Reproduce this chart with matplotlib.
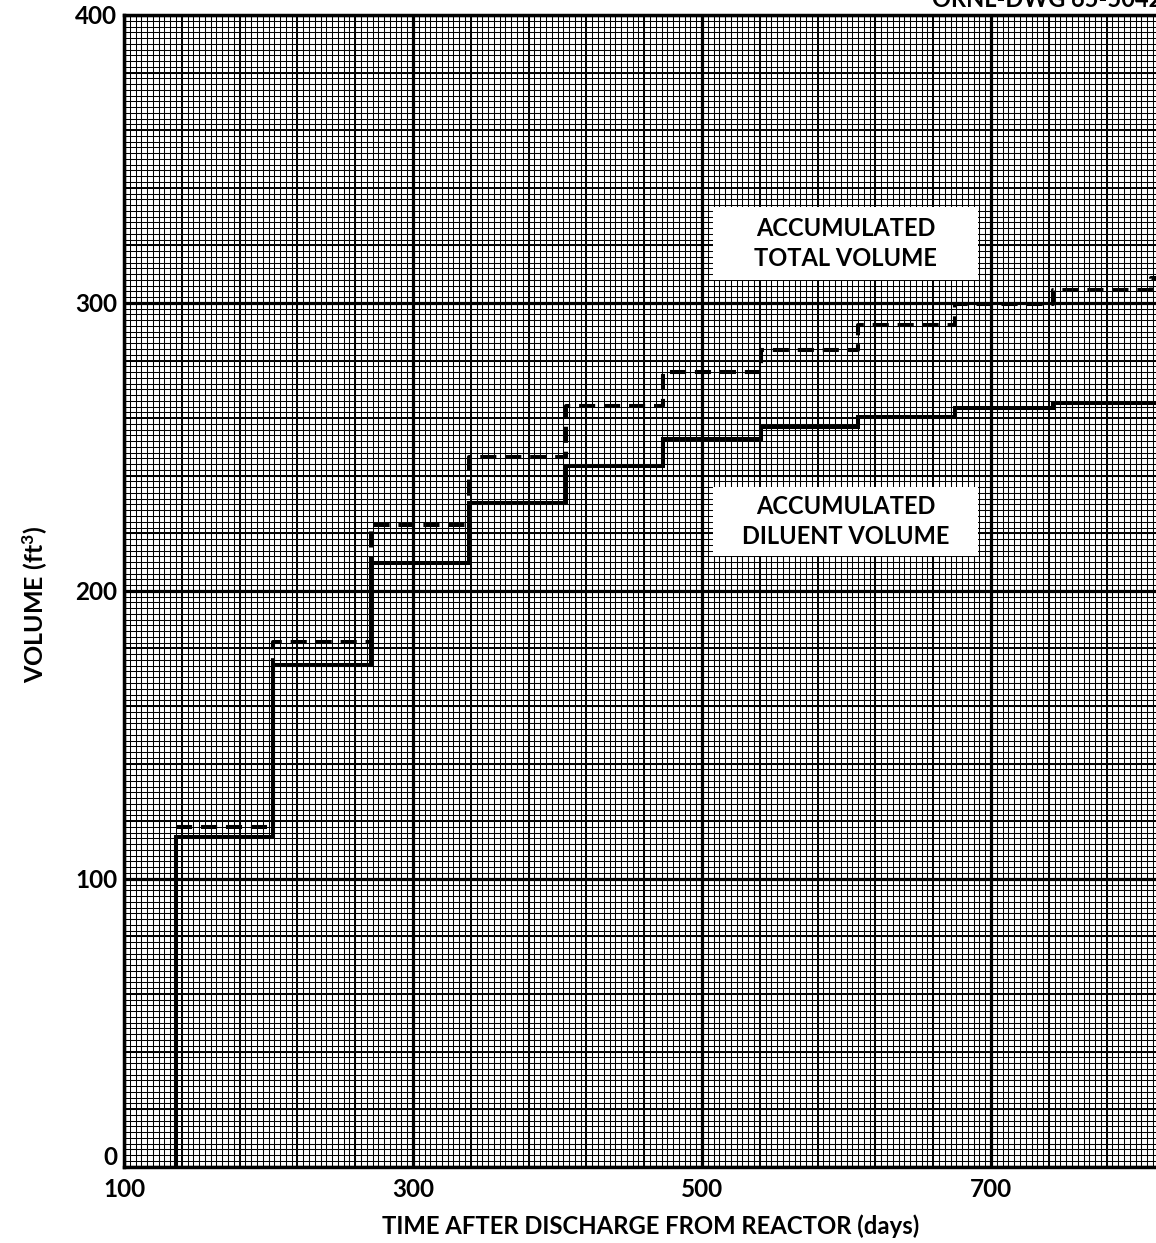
import numpy as np
import matplotlib
matplotlib.use("Agg")
import matplotlib.pyplot as plt
from matplotlib.patches import Rectangle
import matplotlib.transforms as mtransforms

plt.rcParams['font.family'] = ['Lato', 'DejaVu Sans']
plt.rcParams['mathtext.default'] = 'regular'

# ---- data ----
step_days = [136, 203, 271, 339, 406, 473, 541, 608, 675, 743, 811]
diluent_volume = [114.6, 174.3, 209.7, 230.4, 243.4, 252.7, 256.9, 260.4, 263.5, 265.3, 265.3]
total_volume = [118.1, 182.4, 222.9, 246.4, 264.1, 275.9, 283.7, 292.4, 299.7, 304.6, 308.8]
x_ticks = [100, 300, 500, 700]
y_ticks = [0, 100, 200, 300, 400]
x_label = "TIME AFTER DISCHARGE FROM REACTOR (days)"
y_label = "VOLUME (ft$^{3}$)"
label_total = "ACCUMULATED\nTOTAL VOLUME"
label_diluent = "ACCUMULATED\nDILUENT VOLUME"
drawing_id = "ORNL-DWG 65-5042"

W, H = 1156, 1243
fig = plt.figure(figsize=(W / 100, H / 100), dpi=100)
ax = fig.add_axes([124 / W, (H - 1166.7) / H, 1054.9 / W, 1151.7 / H])
ax.set_xlim(100, 830)
ax.set_ylim(0, 400)

# graph-paper grid
ax.set_xticks(np.arange(100, 831, 4), minor=True)
ax.set_yticks(np.arange(0, 401, 2), minor=True)
ax.grid(which='minor', color='black', lw=0.75, zorder=0)
ax.vlines(np.arange(100, 831, 40), 0, 1, transform=ax.get_xaxis_transform(),
          color='black', lw=1.4, zorder=0.5)
ax.hlines(np.arange(0, 401, 20), 0, 1, transform=ax.get_yaxis_transform(),
          color='black', lw=1.4, zorder=0.5)
ax.vlines(x_ticks, 0, 1, transform=ax.get_xaxis_transform(),
          color='black', lw=2.3, zorder=0.6)
ax.hlines(y_ticks, 0, 1, transform=ax.get_yaxis_transform(),
          color='black', lw=2.3, zorder=0.6)

ax.set_xticks(x_ticks)
ax.set_yticks(y_ticks)
ax.set_xticklabels([str(v) for v in x_ticks])
ax.set_yticklabels([str(v) for v in y_ticks])
ax.tick_params(which='both', length=0)
ax.tick_params(axis='x', pad=8, labelsize=17.5)
ax.tick_params(axis='y', pad=5, labelsize=17.5)
for lab in ax.get_xticklabels() + ax.get_yticklabels():
    lab.set_fontweight('bold')

# lift the "0" label above the corner so it does not collide with "100"
zero_lab = ax.get_yticklabels()[0]
zero_lab.set_transform(zero_lab.get_transform() +
                       mtransforms.ScaledTranslation(0, 8 / 72, fig.dpi_scale_trans))

for s in ['left', 'bottom', 'top']:
    ax.spines[s].set_linewidth(2.5)
ax.spines['right'].set_visible(False)

# data: step curves
xd = [step_days[0]] + step_days + [830]
yd = [0] + diluent_volume + [diluent_volume[-1]]
ax.step(xd, yd, where='post', color='black', lw=2.9, zorder=3, solid_joinstyle='miter')
xt = step_days + [830]
yt = total_volume + [total_volume[-1]]
ln, = ax.step(xt, yt, where='post', color='black', lw=2.9, zorder=3, linestyle='--')
ln.set_dashes([4, 2.2])

# label boxes
ax.add_patch(Rectangle((507.6, 308.0), 183.4, 25.3, facecolor='white', edgecolor='none', zorder=4))
ax.text(599.3, 320.6, label_total, ha='center', va='center', fontsize=17,
        fontweight='bold', linespacing=1.35, zorder=5)
ax.add_patch(Rectangle((507.6, 212.1), 183.4, 24.0, facecolor='white', edgecolor='none', zorder=4))
ax.text(599.3, 224.1, label_diluent, ha='center', va='center', fontsize=17,
        fontweight='bold', linespacing=1.35, zorder=5)

ax.set_xlabel(x_label, fontsize=17.2, fontweight='bold')
ax.xaxis.set_label_coords((651 - 124) / 1054.9, -(1214 - 1166.7) / 1151.7)
ax.set_ylabel(y_label, fontsize=18, fontweight='bold')
ax.yaxis.set_label_coords(-(124 - 35) / 1054.9, (1166.7 - 604) / 1151.7)
ax.yaxis.label.set_va('center')

fig.text(932 / W, 1 - 7 / H, drawing_id, ha='left', va='baseline', fontsize=17, fontweight='bold')

fig.savefig('out.png', dpi=100)
